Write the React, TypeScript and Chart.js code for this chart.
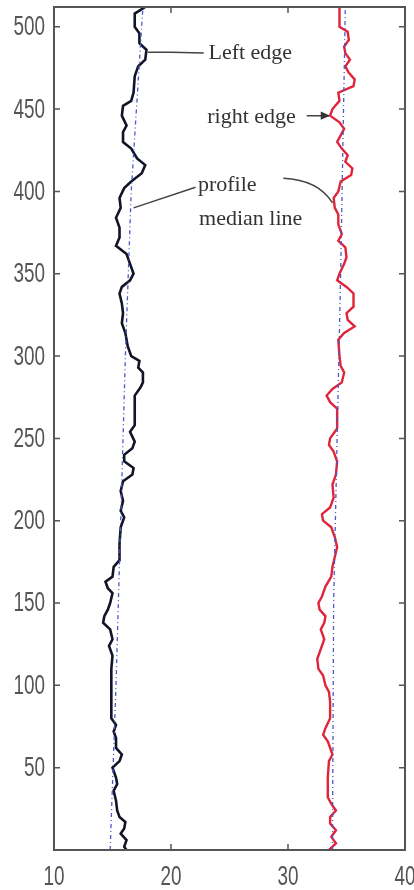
import React, { useEffect, useRef } from "react";
import { Chart, registerables } from "chart.js";

Chart.register(...registerables);

// ---- data (x = edge position, y = profile height) ----
const leftEdgeY = [512, 508, 500, 496, 490, 486, 480, 476, 470, 460, 455, 452, 446, 440, 436, 430, 426, 420, 416, 411, 406, 402, 396, 390, 384, 378, 372, 367, 362, 356, 350, 346, 342, 338, 332, 326, 320, 314, 306, 300, 297, 293, 290, 284, 281, 276, 258, 254, 248, 244, 240, 236, 232, 228, 224, 218, 212, 206, 202, 196, 186, 176, 172, 166, 163, 159, 156, 150, 146, 142, 138, 134, 128, 124, 118, 110, 100, 90, 80, 76, 72, 68, 62, 58, 54, 50, 44, 40, 36, 30, 24, 20, 17, 13, 10, 6, 2, 0];
const leftEdgeX = [17.8, 16.9, 16.9, 17.3, 17.3, 17.9, 17.8, 17.2, 16.9, 16.8, 16.6, 15.9, 15.8, 16.2, 15.9, 15.9, 16.6, 17.1, 17.8, 17.5, 16.6, 16.0, 15.6, 15.7, 15.3, 15.6, 15.6, 15.3, 16.2, 16.5, 16.8, 16.5, 15.8, 15.6, 15.8, 15.9, 15.8, 16.1, 16.3, 16.6, 17.3, 17.2, 17.6, 17.6, 17.4, 16.9, 16.9, 16.5, 16.9, 16.7, 16.0, 16.0, 16.8, 16.7, 15.9, 15.7, 15.9, 15.7, 16.0, 15.7, 15.6, 15.6, 15.1, 15.0, 14.4, 14.6, 15.0, 14.8, 14.6, 14.3, 14.2, 14.8, 15.0, 14.7, 15.0, 14.9, 14.9, 14.9, 14.9, 15.3, 15.1, 15.3, 15.3, 15.8, 15.6, 15.0, 15.3, 15.4, 15.1, 15.3, 15.4, 15.6, 16.1, 16.0, 15.7, 16.2, 16.0, 16.2];

const rightEdgeY = [512, 500, 497, 492, 488, 484, 480, 476, 472, 468, 464, 460, 455, 450, 446, 442, 438, 434, 430, 426, 422, 418, 414, 410, 406, 400, 396, 390, 386, 380, 374, 370, 366, 360, 356, 350, 346, 342, 338, 330, 326, 322, 318, 314, 310, 300, 294, 290, 284, 280, 276, 272, 268, 256, 250, 246, 242, 236, 228, 222, 214, 208, 204, 200, 196, 190, 184, 178, 172, 166, 160, 154, 150, 146, 142, 138, 134, 128, 122, 116, 110, 106, 100, 96, 90, 80, 74, 70, 66, 62, 58, 54, 44, 32, 28, 24, 20, 16, 12, 8, 4, 0];
const rightEdgeX = [34.4, 34.4, 35.1, 35.2, 34.8, 34.9, 35.3, 34.9, 35.2, 35.7, 35.6, 34.3, 34.4, 33.8, 33.6, 34.4, 34.8, 34.5, 34.2, 34.6, 35.1, 34.9, 35.5, 35.4, 34.5, 34.3, 33.9, 34.0, 34.3, 34.3, 34.6, 34.3, 34.9, 35.0, 34.8, 34.4, 34.2, 35.0, 35.6, 35.6, 35.0, 35.1, 35.7, 34.8, 34.3, 34.4, 34.5, 34.8, 34.6, 33.8, 33.3, 33.6, 34.2, 34.2, 33.6, 33.5, 33.9, 34.2, 34.1, 33.8, 33.9, 33.6, 32.9, 33.0, 33.7, 34.0, 34.2, 34.0, 33.8, 33.7, 33.2, 32.9, 32.6, 32.7, 33.2, 33.1, 32.8, 33.1, 32.8, 32.5, 32.6, 33.0, 33.2, 33.5, 33.6, 33.6, 33.2, 33.0, 33.4, 33.6, 33.8, 33.5, 33.4, 33.4, 33.7, 34.1, 33.6, 33.6, 34.1, 33.7, 34.1, 33.5];

const leftMedianY = [0, 100, 200, 300, 400, 512];
const leftMedianX = [14.8, 15.3, 15.7, 16.1, 16.6, 17.6];
const rightMedianY = [0, 150, 250, 350, 512];
const rightMedianX = [33.8, 33.9, 34.2, 34.5, 34.9];

const xTicks = [10, 20, 30, 40];
const yTicks = [50, 100, 150, 200, 250, 300, 350, 400, 450, 500];

const labelLeftEdge = "Left edge";
const labelRightEdge = "right edge";
const labelProfile = "profile";
const labelMedian = "median line";

const pts = (xs: number[], ys: number[]) => xs.map((x, i) => ({ x, y: ys[i] }));

const TICK_FONT = "27px 'Liberation Sans', Arial, sans-serif";
const TICK_SQUEEZE = 0.7;
const NOTE_FONT = "22px 'Liberation Serif', 'Times New Roman', serif";

const framePlugin = {
  id: "frame",
  afterDatasetsDraw(chart: any) {
    const { ctx, chartArea: a, scales } = chart;
    const xs = scales.x;
    const ys = scales.y;
    ctx.save();
    ctx.strokeStyle = "#555";
    ctx.lineWidth = 2;
    ctx.strokeRect(a.left, a.top, a.right - a.left, a.bottom - a.top);
    ctx.lineWidth = 1.5;
    const tl = 6;
    ctx.beginPath();
    xTicks.forEach((v) => {
      const px = xs.getPixelForValue(v);
      ctx.moveTo(px, a.bottom);
      ctx.lineTo(px, a.bottom - tl);
      ctx.moveTo(px, a.top);
      ctx.lineTo(px, a.top + tl);
    });
    yTicks.forEach((v) => {
      const py = ys.getPixelForValue(v);
      ctx.moveTo(a.left, py);
      ctx.lineTo(a.left + tl, py);
      ctx.moveTo(a.right, py);
      ctx.lineTo(a.right - tl, py);
    });
    ctx.stroke();

    // tick labels (narrow, MATLAB-like)
    ctx.fillStyle = "#555";
    ctx.font = TICK_FONT;
    ctx.textBaseline = "middle";
    yTicks.forEach((v) => {
      const py = ys.getPixelForValue(v);
      ctx.save();
      ctx.translate(a.left - 9, py + 1);
      ctx.scale(TICK_SQUEEZE, 1);
      ctx.textAlign = "right";
      ctx.fillText(String(v), 0, 0);
      ctx.restore();
    });
    xTicks.forEach((v) => {
      const px = xs.getPixelForValue(v);
      ctx.save();
      ctx.translate(px, a.bottom + 28);
      ctx.scale(TICK_SQUEEZE, 1);
      ctx.textAlign = "center";
      ctx.fillText(String(v), 0, 0);
      ctx.restore();
    });
    ctx.restore();
  },
};

const notesPlugin = {
  id: "notes",
  afterDraw(chart: any) {
    const { ctx, scales } = chart;
    const X = (v: number) => scales.x.getPixelForValue(v);
    const Y = (v: number) => scales.y.getPixelForValue(v);
    ctx.save();
    ctx.font = NOTE_FONT;
    ctx.fillStyle = "#333";
    ctx.textBaseline = "middle";
    ctx.textAlign = "left";
    ctx.fillText(labelLeftEdge, X(23.2), Y(484));
    ctx.fillText(labelRightEdge, X(23.1), Y(445));
    ctx.fillText(labelProfile, X(22.3), Y(404));
    ctx.fillText(labelMedian, X(22.4), Y(383));

    ctx.strokeStyle = "#444";
    ctx.lineWidth = 1.5;
    ctx.beginPath();
    ctx.moveTo(X(22.8), Y(484));
    ctx.lineTo(X(20.0), Y(484.5));
    ctx.lineTo(X(18.0), Y(484.5));
    ctx.moveTo(X(31.6), Y(446));
    ctx.lineTo(X(33.5), Y(446));
    ctx.moveTo(X(22.1), Y(402.5));
    ctx.lineTo(X(16.8), Y(390));
    ctx.moveTo(X(29.6), Y(408));
    ctx.quadraticCurveTo(X(32.6), Y(407), X(33.8), Y(393));
    ctx.stroke();
    ctx.fillStyle = "#333";
    ctx.beginPath();
    ctx.moveTo(X(33.6), Y(446));
    ctx.lineTo(X(32.8), Y(448.5));
    ctx.lineTo(X(32.8), Y(443.5));
    ctx.closePath();
    ctx.fill();
    ctx.restore();
  },
};

export default function App() {
  const ref = useRef<HTMLCanvasElement | null>(null);
  useEffect(() => {
    if (!ref.current) return;
    const chart = new Chart(ref.current, {
      type: "line",
      data: {
        datasets: [
          {
            label: "left median",
            data: pts(leftMedianX, leftMedianY),
            borderColor: "#4a58c8",
            borderWidth: 1.3,
            borderDash: [4, 3, 1, 3],
            pointRadius: 0,
            tension: 0,
          },
          {
            label: "right median",
            data: pts(rightMedianX, rightMedianY),
            borderColor: "#4a58c8",
            borderWidth: 1.3,
            borderDash: [4, 3, 1, 3],
            pointRadius: 0,
            tension: 0,
          },
          {
            label: "Left edge",
            data: pts(leftEdgeX, leftEdgeY),
            borderColor: "#141428",
            borderWidth: 2.6,
            pointRadius: 0,
            tension: 0,
          },
          {
            label: "right edge",
            data: pts(rightEdgeX, rightEdgeY),
            borderColor: "#e0243a",
            borderWidth: 2.4,
            pointRadius: 0,
            tension: 0,
          },
        ],
      },
      options: {
        animation: false,
        responsive: true,
        maintainAspectRatio: false,
        layout: { padding: { top: 7, right: 9, left: 54, bottom: 40 } },
        plugins: { legend: { display: false }, tooltip: { enabled: false } },
        scales: {
          x: { type: "linear", display: false, min: 10, max: 40 },
          y: { type: "linear", display: false, min: 0, max: 512 },
        },
      },
      plugins: [framePlugin, notesPlugin],
    });
    return () => chart.destroy();
  }, []);
  return (
    <div style={{ position: "absolute", left: 0, top: 0, width: 414, height: 890, background: "#fff" }}>
      <canvas ref={ref} />
    </div>
  );
}
